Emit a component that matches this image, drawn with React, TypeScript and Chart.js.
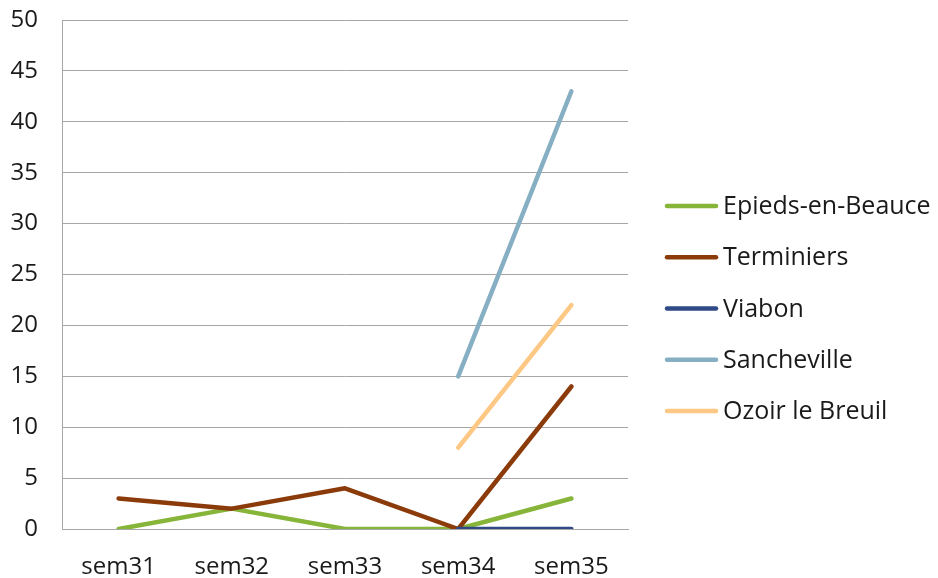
import React, { useEffect, useRef } from "react";
import { Chart, registerables } from "chart.js";

Chart.register(...registerables);

const categories = ["sem31", "sem32", "sem33", "sem34", "sem35"];
const seriesNames = ["Epieds-en-Beauce", "Terminiers", "Viabon", "Sancheville", "Ozoir le Breuil"];
const epieds = [0, 2, 0, 0, 3];
const terminiers = [3, 2, 4, 0, 14];
const viabon = [null, null, null, 0, 0];
const sancheville = [null, null, null, 15, 43];
const ozoir = [null, null, null, 8, 22];
const seriesColors = ["#86B53A", "#8B3B0A", "#2F4A87", "#87AFC3", "#FCC883"];
const yMin = 0;
const yMax = 50;
const yStep = 5;

const FONT = "'Open Sans', sans-serif";
const FONT_SIZE = 24;
const LEGEND_FONT_SIZE = 25;
const TEXT_COLOR = "#1a1a1a";

const legendPlugin = {
  id: "sideLegend",
  afterDraw(chart: any) {
    const ctx = chart.ctx;
    const ds = chart.data.datasets;
    const n = ds.length;
    const centerY = 308.5;
    const step = 51.25;
    ctx.save();
    ctx.font = `${LEGEND_FONT_SIZE}px ${FONT}`;
    ctx.textBaseline = "middle";
    ctx.textAlign = "left";
    ds.forEach((d: any, i: number) => {
      const y = centerY + (i - (n - 1) / 2) * step;
      ctx.strokeStyle = d.borderColor;
      ctx.lineWidth = 4.5;
      ctx.lineCap = "round";
      ctx.beginPath();
      ctx.moveTo(667, y);
      ctx.lineTo(716, y);
      ctx.stroke();
      ctx.fillStyle = TEXT_COLOR;
      ctx.fillText(d.label, 723, y + 1);
    });
    ctx.restore();
  },
};

export default function App() {
  const ref = useRef<HTMLCanvasElement | null>(null);
  useEffect(() => {
    if (!ref.current) return;
    const values = [epieds, terminiers, viabon, sancheville, ozoir];
    const chart = new Chart(ref.current, {
      type: "line",
      data: {
        labels: categories,
        datasets: values.map((v, i) => ({
          label: seriesNames[i],
          data: v,
          borderColor: seriesColors[i],
          backgroundColor: seriesColors[i],
          borderWidth: 4.5,
          pointRadius: 0,
          borderCapStyle: "round" as const,
          borderJoinStyle: "round" as const,
          tension: 0,
          spanGaps: false,
          order: values.length - i,
        })),
      },
      options: {
        animation: false,
        responsive: false,
        maintainAspectRatio: false,
        layout: { padding: { top: 20, right: 310, bottom: 0, left: 0 } },
        plugins: {
          tooltip: { enabled: false },
          legend: { display: false },
        },
        scales: {
          x: {
            offset: true,
            grid: { display: false, drawTicks: false },
            border: { display: true, color: "#a6a6a6", width: 1 },
            ticks: { color: TEXT_COLOR, font: { family: FONT, size: FONT_SIZE }, padding: 24, maxRotation: 0 },
            afterFit: (s: any) => {
              s.height = 49;
              s.paddingLeft = 0;
              s.paddingRight = 0;
            },
          },
          y: {
            min: yMin,
            max: yMax,
            grid: { color: "#a6a6a6", lineWidth: 1, drawTicks: false },
            border: { display: true, color: "#a6a6a6", width: 1 },
            ticks: { stepSize: yStep, color: TEXT_COLOR, font: { family: FONT, size: FONT_SIZE }, padding: 24 },
            afterFit: (s: any) => {
              s.width = 62;
              s.paddingTop = 0;
              s.paddingBottom = 0;
            },
          },
        },
      },
      plugins: [legendPlugin],
    });
    return () => chart.destroy();
  }, []);
  return (
    <div style={{ position: "fixed", left: 0, top: 0, width: 938, height: 578, background: "#fff" }}>
      <canvas ref={ref} width={938} height={578} style={{ width: 938, height: 578 }} />
    </div>
  );
}
